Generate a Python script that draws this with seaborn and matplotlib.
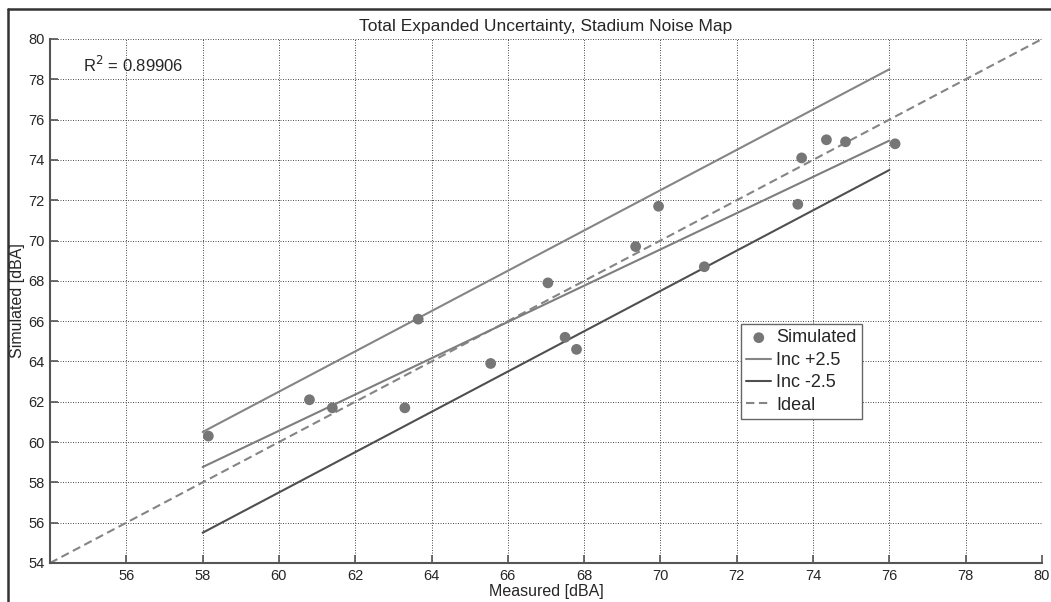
import numpy as np
import pandas as pd
import seaborn as sns
import matplotlib.pyplot as plt
from matplotlib.lines import Line2D

# measured vs simulated levels
measured = [58.15, 60.8, 61.4, 63.3, 63.65, 65.55, 67.05, 67.5, 67.8, 69.35,
            69.95, 71.15, 73.6, 73.7, 74.35, 74.85, 76.15]
simulated = [60.3, 62.1, 61.7, 61.7, 66.1, 63.9, 67.9, 65.2, 64.6, 69.7,
             71.7, 68.7, 71.8, 74.1, 75.0, 74.9, 74.8]

# linear fit line and the +/- 2.5 dB band
fit_x = [58, 76]
fit_y = [58.76, 74.96]
inc_x = [58, 76]
inc_plus = [60.5, 78.5]
inc_minus = [55.5, 73.5]
ideal = [54, 80]
r2_text = "R$^2$ = 0.89906"

sns.set_style("white")
plt.rcParams['font.family'] = ['Liberation Sans', 'DejaVu Sans']

fig = plt.figure(figsize=(10.51, 6.02), dpi=100)
ax = fig.add_axes([50 / 1051, 1 - 563 / 602, 992 / 1051, 524 / 602])

pts = pd.DataFrame({"Measured": measured, "Simulated": simulated})
sns.scatterplot(data=pts, x="Measured", y="Simulated", ax=ax, color="#767676",
                s=60, edgecolor="none", label="Simulated", zorder=4)
sns.lineplot(x=inc_x, y=inc_plus, ax=ax, color="#858585", lw=1.5, label="Inc +2.5")
sns.lineplot(x=inc_x, y=inc_minus, ax=ax, color="#4f4f4f", lw=1.5, label="Inc -2.5")
sns.lineplot(x=ideal, y=ideal, ax=ax, color="#858585", lw=1.5, ls=(0, (4, 2.2)), label="Ideal")
sns.lineplot(x=fit_x, y=fit_y, ax=ax, color="#7e7e7e", lw=1.5, label="_nolegend_")

ax.set_xlim(54, 80)
ax.set_ylim(54, 80)
ax.set_xticks(range(56, 81, 2))
ax.set_yticks(range(54, 81, 2))
ax.grid(True, color="#333333", ls=(0, (1.2, 1.8)), lw=0.6)
ax.tick_params(direction="in", length=6, width=1.2, color="#555555",
               labelsize=10.5, pad=4, left=True, bottom=True)
for side in ["top", "right"]:
    ax.spines[side].set_visible(False)
for side in ["left", "bottom"]:
    ax.spines[side].set_color("#555555")
    ax.spines[side].set_linewidth(1.5)

ax.set_title("Total Expanded Uncertainty, Stadium Noise Map", fontsize=12.5, pad=6)
ax.set_xlabel("Measured [dBA]", fontsize=11.5, labelpad=1)
ax.set_ylabel("Simulated [dBA]", fontsize=11.5, labelpad=2)
ax.text(54.86, 78.37, r2_text, fontsize=12, va="baseline", ha="left")

leg = ax.legend(loc="upper left", bbox_to_anchor=(0.6963, 0.4561), borderaxespad=0,
                fontsize=13, frameon=True, fancybox=False, framealpha=1,
                edgecolor="#666666", handlelength=1.4, handletextpad=0.25,
                labelspacing=0.3, borderpad=0.3)
leg.get_frame().set_linewidth(1.0)

# figure border (left and top edges visible in the original)
fig.add_artist(Line2D([8 / 1051, 8 / 1051], [0, 1 - 9 / 602], transform=fig.transFigure,
                      color="#333333", lw=1.8))
fig.add_artist(Line2D([8 / 1051, 1], [1 - 9 / 602, 1 - 9 / 602], transform=fig.transFigure,
                      color="#333333", lw=1.8))

fig.savefig("out.png", dpi=100)
